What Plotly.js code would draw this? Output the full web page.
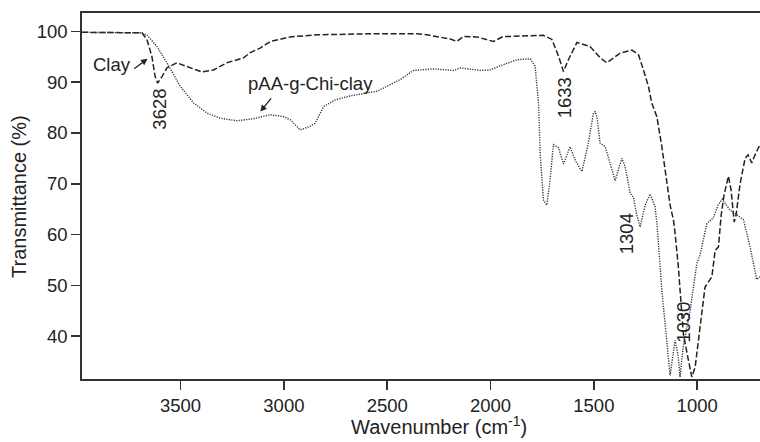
<!DOCTYPE html>
<html>
<head>
<meta charset="utf-8">
<script src="https://cdn.plot.ly/plotly-3.0.1.min.js"></script>
<style>html,body{margin:0;padding:0;background:#fff;}#chart{width:760px;height:442px;}</style>
</head>
<body>
<div id="chart"></div>
<script>
// Clay spectrum (wavenumber cm-1, transmittance %)
const clayWn = [3976,3687,3663,3639,3623,3611,3590,3566,3518,3469,3397,3341,3276,3195,3163,3115,3066,2969,2840,2598,2356,2308,2195,2163,2131,2066,2034,1986,1938,1905,1744,1703,1671,1647,1623,1582,1518,1470,1437,1373,1316,1284,1260,1236,1220,1195,1171,1147,1131,1115,1107,1091,1079,1067,1042,1026,1010,986,962,929,913,897,884,870,849,836,821,812,792,768,754,736,720,696];
const clayT  = [99.8,99.7,98.4,95.1,91.1,89.8,91.1,92.8,93.8,93.1,92.0,92.4,93.8,94.8,95.8,96.7,98.0,98.9,99.3,99.5,99.5,99.3,98.5,98.0,99.0,98.9,98.5,98.0,99.0,99.0,99.2,98.4,95.1,92.1,94.4,97.8,97.0,94.8,93.8,95.7,96.3,95.4,92.4,89.2,85.9,83.2,77.3,70.7,65.8,62.9,60.3,53.6,47.1,40.5,35.2,32.0,33.9,42.1,49.7,51.7,56.9,57.6,63.8,67.8,71.5,68.8,62.5,63.8,70.1,75.0,75.7,74.1,75.7,77.7];
// pAA-g-Chi-clay spectrum
const compWn = [3976,3695,3663,3614,3566,3502,3437,3372,3308,3227,3147,3066,3002,2969,2921,2873,2849,2808,2752,2679,2550,2437,2373,2276,2179,2147,2050,2002,1953,1873,1808,1784,1768,1760,1744,1728,1712,1696,1671,1647,1615,1591,1558,1528,1502,1494,1484,1470,1445,1421,1397,1365,1349,1324,1309,1292,1276,1252,1228,1204,1194,1171,1147,1131,1121,1107,1092,1083,1067,1034,1002,986,953,922,899,879,841,817,776,744,712,696];
const compT  = [99.8,99.7,99.3,97.0,93.8,89.2,85.9,83.9,82.9,82.4,82.8,83.6,83.2,82.6,80.6,81.3,81.9,85.2,86.5,87.3,88.2,90.5,92.3,92.6,92.3,92.8,92.3,92.4,93.2,94.4,94.6,93.1,85.9,76.0,66.8,65.8,70.7,77.7,77.1,73.9,77.3,74.7,72.4,77.7,83.9,84.2,83.0,78.0,77.3,73.7,70.6,75.0,73.4,68.1,67.4,63.8,61.5,65.8,68.0,65.5,61.9,49.1,38.2,32.3,35.2,39.2,36.2,32.0,38.2,45.1,54.3,56.0,62.2,63.3,65.8,67.0,64.8,64.2,62.9,57.6,51.2,51.7];
const xTicks = [3500,3000,2500,2000,1500,1000];
const yTicks = [40,50,60,70,80,90,100];

const FONT = 'Liberation Sans, Arial, Helvetica, sans-serif';
const traces = [
  {x: clayWn, y: clayT, type: 'scatter', mode: 'lines', name: 'Clay',
   line: {color: '#222', width: 1.5, dash: '6px,2.5px'}, hoverinfo: 'skip'},
  {x: compWn, y: compT, type: 'scatter', mode: 'lines', name: 'pAA-g-Chi-clay',
   line: {color: '#333', width: 1.4, dash: '1.2px,1.3px'}, hoverinfo: 'skip'}
];

function lbl(text, x, y, angle) {
  return {text: text, x: x, y: y, xref: 'x', yref: 'y', showarrow: false,
          textangle: angle || 0, font: {family: FONT, size: 18.5, color: '#222'},
          xanchor: 'center', yanchor: 'middle'};
}
function arrow(x, y, ax, ay) {
  return {text: '', x: x, y: y, ax: ax, ay: ay, xref: 'x', yref: 'y', axref: 'x', ayref: 'y',
          showarrow: true, arrowhead: 2, arrowsize: 1, arrowwidth: 1.3, arrowcolor: '#222', standoff: 0};
}

const layout = {
  width: 760, height: 442,
  margin: {l: 82, r: 0, t: 13, b: 63},
  paper_bgcolor: '#fff', plot_bgcolor: '#fff',
  showlegend: false,
  font: {family: FONT, size: 18.5, color: '#222'},
  xaxis: {
    range: [3977, 696], tickvals: xTicks, ticks: 'outside', ticklen: 9, tickwidth: 1.6, tickcolor: '#333',
    showline: true, linecolor: '#333', linewidth: 1.8, mirror: true, showgrid: false, zeroline: false,
    tickfont: {family: FONT, size: 18.5, color: '#222'}
  },
  yaxis: {
    range: [31.6, 103.6], tickvals: yTicks, ticks: 'outside', ticklen: 9, tickwidth: 1.6, tickcolor: '#333',
    showline: true, linecolor: '#333', linewidth: 1.8, showgrid: false, zeroline: false,
    tickfont: {family: FONT, size: 18.5, color: '#222'}
  },
  annotations: [
    {text: 'Wavenumber (cm<sup>-1</sup>)', xref: 'paper', yref: 'paper', x: 0.5265, y: -0.128,
     xanchor: 'center', yanchor: 'middle', showarrow: false, font: {family: FONT, size: 20, color: '#222'}},
    {text: 'Transmittance (%)', xref: 'paper', yref: 'paper', x: -0.093, y: 0.5, textangle: -90,
     xanchor: 'center', yanchor: 'middle', showarrow: false, font: {family: FONT, size: 20, color: '#222'}},
    lbl('Clay', 3833, 93.4),
    arrow(3660, 94.6, 3732, 92.4),
    lbl('pAA-g-Chi-clay', 2869, 89.8),
    arrow(3114, 84.2, 3056, 87.1),
    lbl('3628', 3604, 84.6, -90),
    lbl('1633', 1645, 87.0, -90),
    lbl('1304', 1344, 60.1, -90),
    lbl('1030', 1070, 42.8, -90)
  ]
};

Plotly.newPlot('chart', traces, layout, {staticPlot: true, displayModeBar: false});
</script>
</body>
</html>
